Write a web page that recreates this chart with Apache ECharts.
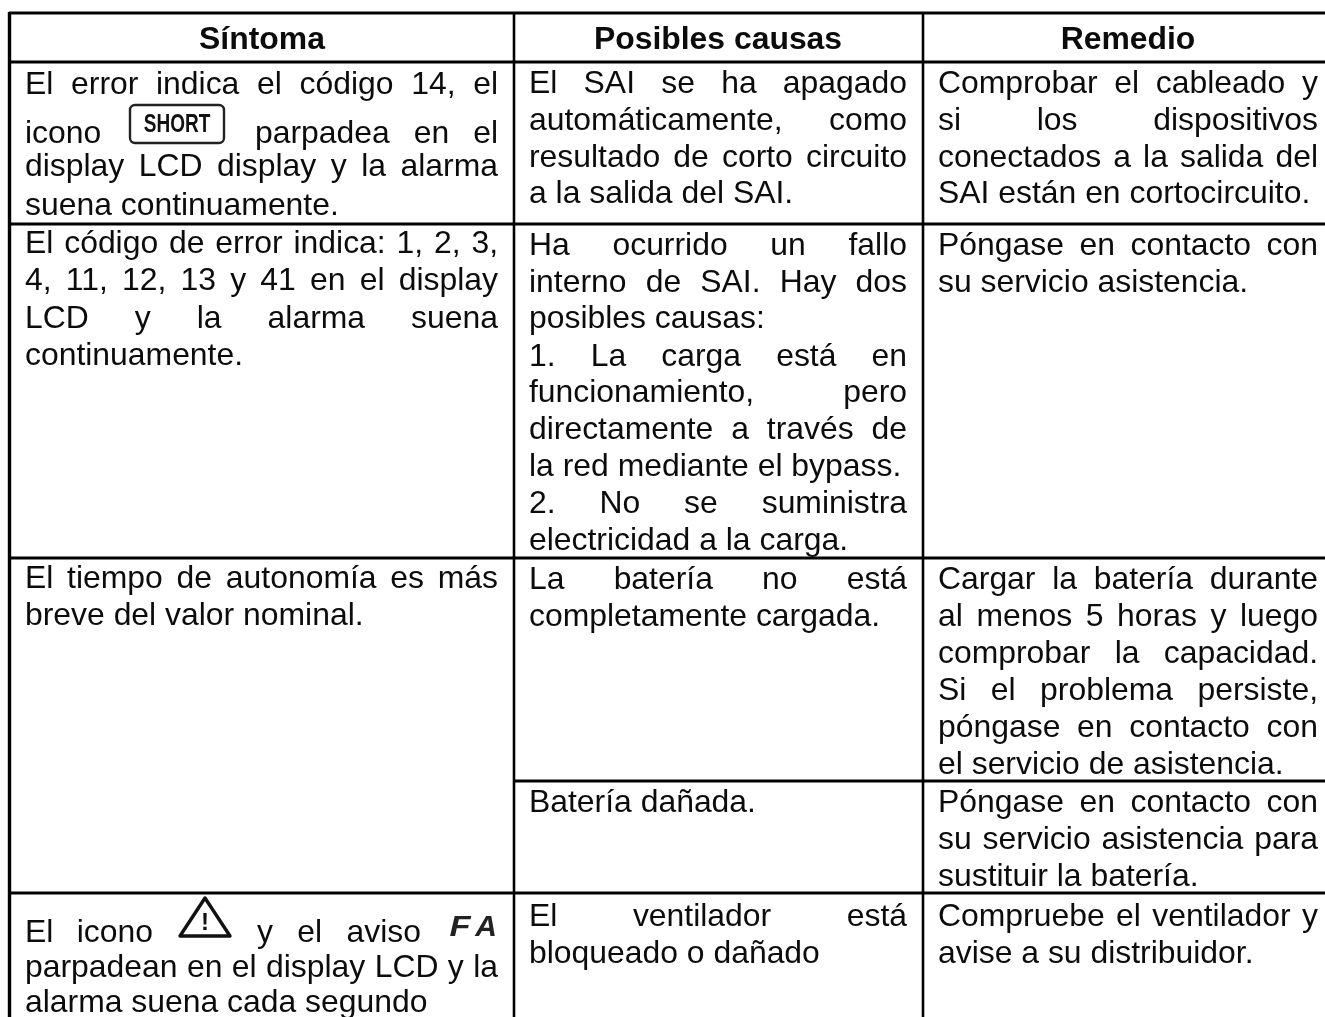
<!DOCTYPE html>
<html>
<head>
<meta charset="utf-8">
<style>html,body{margin:0;padding:0;background:#fff}#c{width:1325px;height:1017px}</style>
<script src="https://cdn.jsdelivr.net/npm/echarts@6/dist/echarts.min.js"></script>
</head>
<body>
<div id="c"></div>
<script>
// ---- table content ----
const headers = ['Síntoma', 'Posibles causas', 'Remedio'];

const sintoma1 = ['El error indica el código 14, el', 'display LCD display y la alarma', 'suena continuamente.'];
const sintoma1Icon = ['icono', 'parpadea en el'];
const sintoma2 = ['El código de error indica: 1, 2, 3,', '4, 11, 12, 13 y 41 en el display', 'LCD y la alarma suena', 'continuamente.'];
const sintoma3 = ['El tiempo de autonomía es más', 'breve del valor nominal.'];
const sintoma4Icon = ['El icono', 'y el aviso'];
const sintoma4 = ['parpadean en el display LCD y la', 'alarma suena cada segundo'];

const causas1 = ['El SAI se ha apagado', 'automáticamente, como', 'resultado de corto circuito', 'a la salida del SAI.'];
const causas2 = ['Ha ocurrido un fallo', 'interno de SAI. Hay dos', 'posibles causas:', '1. La carga está en', 'funcionamiento, pero', 'directamente a través de', 'la red mediante el bypass.', '2. No se suministra', 'electricidad a la carga.'];
const causas3 = ['La batería no está', 'completamente cargada.'];
const causas4 = ['Batería dañada.'];
const causas5 = ['El ventilador está', 'bloqueado o dañado'];

const remedio1 = ['Comprobar el cableado y', 'si los dispositivos', 'conectados a la salida del', 'SAI están en cortocircuito.'];
const remedio2 = ['Póngase en contacto con', 'su servicio asistencia.'];
const remedio3 = ['Cargar la batería durante', 'al menos 5 horas y luego', 'comprobar la capacidad.', 'Si el problema persiste,', 'póngase en contacto con', 'el servicio de asistencia.'];
const remedio4 = ['Póngase en contacto con', 'su servicio asistencia para', 'sustituir la batería.'];
const remedio5 = ['Compruebe el ventilador y', 'avise a su distribuidor.'];

// Lines that end a paragraph are set flush left instead of justified.
const flushLeft = new Set([
  'suena continuamente.', 'continuamente.', 'breve del valor nominal.', 'alarma suena cada segundo',
  'a la salida del SAI.', 'posibles causas:', 'la red mediante el bypass.', 'electricidad a la carga.',
  'completamente cargada.', 'Batería dañada.', 'bloqueado o dañado',
  'SAI están en cortocircuito.', 'su servicio asistencia.', 'el servicio de asistencia.',
  'sustituir la batería.', 'avise a su distribuidor.'
]);

const iconShort = 'SHORT';
const iconWarn = '!';
const iconLcd = ['F', 'A'];

// ---- layout ----
const INK = '#0c0c0c';
const FONT_FAMILY = '"Liberation Sans", Arial, sans-serif';
const SIZE = 31.9;
const BODY = SIZE + 'px ' + FONT_FAMILY;
const BOLD = 'bold ' + SIZE + 'px ' + FONT_FAMILY;
const MID = 0.3465 * SIZE - 2.5;      // baseline -> em-box middle, with renderer offset
const COL = [[25, 498], [529, 907], [938, 1318]];
const HEAD_X = [262, 718, 1128];

const blocks = [
  [0, sintoma1.slice(0, 1), [94]],
  [0, sintoma1.slice(1), [176, 215]],
  [0, sintoma2, [253, 290, 328, 365]],
  [0, sintoma3, [588, 625]],
  [0, sintoma4, [977, 1012]],
  [1, causas1, [93, 130, 167, 203]],
  [1, causas2, [255, 292, 328, 366, 402, 439, 476, 513, 550]],
  [1, causas3, [589, 626]],
  [1, causas4, [812]],
  [1, causas5, [926, 963]],
  [2, remedio1, [93, 130, 167, 203]],
  [2, remedio2, [255, 292]],
  [2, remedio3, [589, 626, 663, 700, 737, 774]],
  [2, remedio4, [812, 849, 886]],
  [2, remedio5, [926, 963]]
];

const hRules = [[9, 1325, 13, 3], [9, 1325, 62, 3], [9, 1325, 224, 3], [9, 1325, 558, 3], [514, 1325, 781, 3], [9, 1325, 893, 3]];
const vRules = [[9.5, 12, 1017, 3.4], [514, 12, 1017, 2.6], [923, 12, 1017, 2.6]];

// ---- text helpers ----
const ctx = document.createElement('canvas').getContext('2d');
function widthOf(s, font) { ctx.font = font; return ctx.measureText(s).width; }
function textEl(text, x, base, font, align) {
  return { type: 'text', x: x, y: base - MID, silent: true,
    style: { text: text, font: font || BODY, fill: INK, align: align || 'left', verticalAlign: 'middle' } };
}
function justified(text, x0, x1, base) {
  const words = text.split(' ');
  const used = words.reduce((s, w) => s + widthOf(w, BODY), 0);
  const gap = words.length > 1 ? (x1 - x0 - used) / (words.length - 1) : 0;
  let x = x0;
  return words.map(w => { const e = textEl(w, x, base); x += widthOf(w, BODY) + gap; return e; });
}

// ---- build ----
const els = [];
hRules.forEach(r => els.push({ type: 'line', silent: true, shape: { x1: r[0], y1: r[2], x2: r[1], y2: r[2] }, style: { stroke: '#000', lineWidth: r[3] } }));
vRules.forEach(r => els.push({ type: 'line', silent: true, shape: { x1: r[0], y1: r[1], x2: r[0], y2: r[2] }, style: { stroke: '#000', lineWidth: r[3] } }));

headers.forEach((h, i) => els.push(textEl(h, HEAD_X[i], 49, BOLD, 'center')));

blocks.forEach(b => {
  const c = COL[b[0]];
  b[1].forEach((line, i) => {
    if (flushLeft.has(line)) els.push(textEl(line, c[0], b[2][i]));
    else els.push(...justified(line, c[0], c[1], b[2][i]));
  });
});

// lines with inline icons
els.push(textEl(sintoma1Icon[0], 25, 143));
els.push(...justified(sintoma1Icon[1], 255, 498, 143));
els.push(...justified(sintoma4Icon[0], 25, 153, 942));
els.push(...justified(sintoma4Icon[1], 257, 421, 942));

// SHORT key
els.push({ type: 'rect', silent: true, shape: { x: 130, y: 105, width: 94, height: 38, r: 5 }, style: { fill: '#fff', stroke: '#222', lineWidth: 2.4 } });
els.push({ type: 'text', silent: true, x: 177, y: 125, scaleX: 0.76, scaleY: 1,
  style: { text: iconShort, font: 'bold 25px ' + FONT_FAMILY, fill: '#111', align: 'center', verticalAlign: 'middle' } });

// warning triangle
els.push({ type: 'polygon', silent: true, shape: { points: [[205, 898], [230, 936], [180, 936]] },
  style: { fill: '#fff', stroke: '#111', lineWidth: 3.4, lineJoin: 'round' } });
els.push({ type: 'text', silent: true, x: 205, y: 923,
  style: { text: iconWarn, font: 'bold 24px ' + FONT_FAMILY, fill: '#111', align: 'center', verticalAlign: 'middle' } });

// LCD letters
els.push({ type: 'text', silent: true, x: 460, y: 928, scaleX: 1.15, scaleY: 1,
  style: { text: iconLcd[0], font: 'italic bold 30px ' + FONT_FAMILY, fill: '#222', align: 'center', verticalAlign: 'middle' } });
els.push({ type: 'text', silent: true, x: 486, y: 928, scaleX: 1, scaleY: 1,
  style: { text: iconLcd[1], font: 'italic bold 30px ' + FONT_FAMILY, fill: '#222', align: 'center', verticalAlign: 'middle' } });

const chart = echarts.init(document.getElementById('c'), null, { renderer: 'canvas', width: 1325, height: 1017 });
chart.setOption({ animation: false, backgroundColor: '#fff', graphic: { elements: els } });
</script>
</body>
</html>
